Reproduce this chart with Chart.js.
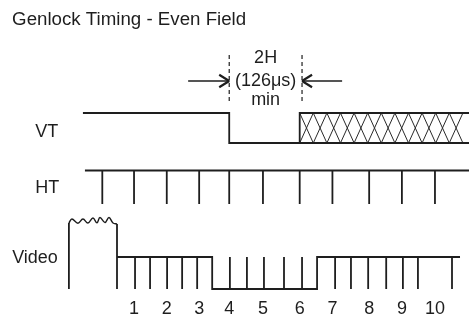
<!DOCTYPE html>
<html>
<head>
<meta charset="utf-8">
<script src="https://cdn.jsdelivr.net/npm/chart.js@4/dist/chart.umd.min.js"></script>
<style>
html,body{margin:0;padding:0;background:#fff;}
#wrap{width:469px;height:320px;position:relative;}
</style>
</head>
<body>
<div id="wrap"><canvas id="c"></canvas></div>
<script>
// ---- Data (time axis in H lines) ----
const title = 'Genlock Timing - Even Field';
const rowLabels = ['VT', 'HT', 'Video'];
const htTicks = [0, 0.95, 1.93, 2.90, 3.80, 4.81, 5.91, 6.89, 7.99, 8.97, 9.96, 10.98];
const tickLabels = ['1','2','3','4','5','6','7','8','9','10'];
const htStart = -0.52;
const vtTime  = [-0.58, 3.80, 3.80, 5.91, 5.91, 11.2];
const vtState = [1, 1, 0, 0, 1, 1];
const vtLowEnd = 11.2;
const hatchSpan = [5.91, 10.80];
const windowEdges = [3.80, 5.98];
const windowText = ['2H', '(126\u03bcs)', 'min'];
const arrowTails = [2.57, 7.18];
const burstLines = [-1.0, 0.0];
const waveTime  = [-1.0, -0.91, -0.73, -0.58, -0.43, -0.28, -0.16, -0.07, 0.08, 0.20, 0.32, 0.44];
const waveLevel = [9.7, 10.1, 9.68, 10.1, 9.7, 10.2, 9.72, 10.25, 9.75, 10.25, 9.7, 9.6];
const videoTime  = [0.44, 3.29, 3.29, 6.43, 6.43, 10.71];
const videoState = [1, 1, 0, 0, 1, 1];
const videoTicks = [0.98, 1.43, 1.94, 2.39, 2.84, 3.82, 4.33, 4.84, 5.44, 5.98,
                    6.97, 7.445, 7.96, 8.50, 9.00, 9.45, 10.47];

// ---- Layout levels (styling, not data) ----
const L = {
  vtHigh: 20.7, vtLow: 17.7,
  ht: 14.95, htBottom: 11.6,
  vHigh: 6.3, vLow: 3.1,
  dashTop: 26.5, dashBottom: 21.8,
  arrowY: 23.9,
  titleY: 30.0, vtLabY: 18.8, htLabY: 13.2, vLabY: 6.2, numY: 1.1,
  textY: [26.2, 23.9, 22.0]
};
const INK = '#1e1e1e';

function seg(pairs){ // pairs of [[x,y],[x,y]] -> points with null gaps
  const out = [];
  pairs.forEach((p,i)=>{ if(i) out.push({x:p[0][0], y:null}); out.push({x:p[0][0],y:p[0][1]},{x:p[1][0],y:p[1][1]}); });
  return out;
}
const ds = (data, extra) => Object.assign({data, borderColor: INK, borderWidth: 1.8, pointRadius: 0, showLine: true, fill: false, tension: 0, spanGaps: false}, extra||{});

const vtPts = vtTime.map((t,i)=>({x:t, y: vtState[i] ? L.vtHigh : L.vtLow}));
const vtBottom = [{x: vtTime[3], y: L.vtLow}, {x: vtLowEnd, y: L.vtLow}];
const htPts = [{x: htStart, y: L.ht}, {x: htTicks[htTicks.length-1] + 0.3, y: L.ht}];
const htTickPts = seg(htTicks.map(t=>[[t, L.ht],[t, L.htBottom]]));
const dashPts = seg(windowEdges.map(t=>[[t, L.dashTop],[t, L.dashBottom]]));
const arrowShafts = seg([[[arrowTails[0], L.arrowY],[windowEdges[0], L.arrowY]], [[arrowTails[1], L.arrowY],[windowEdges[1], L.arrowY]]]);
const hx = 0.30, hy = 0.62;
const arrowHeads = seg([
  [[windowEdges[0]-hx, L.arrowY+hy],[windowEdges[0], L.arrowY]],
  [[windowEdges[0], L.arrowY],[windowEdges[0]-hx, L.arrowY-hy]],
  [[windowEdges[1]+hx, L.arrowY+hy],[windowEdges[1], L.arrowY]],
  [[windowEdges[1], L.arrowY],[windowEdges[1]+hx, L.arrowY-hy]]
]);
const burstPts = seg(burstLines.map((t,i)=>[[t, L.vLow],[t, waveLevel[waveTime.indexOf(t)]]]));
const wavePts = waveTime.map((t,i)=>({x:t, y:waveLevel[i]}));
const videoPts = [{x: videoTime[0], y: waveLevel[waveLevel.length-1]}, {x: videoTime[0], y: L.vLow}, {x: videoTime[0], y: null}]
  .concat(videoTime.map((t,i)=>({x:t, y: videoState[i] ? L.vHigh : L.vLow})));
const vTickPts = seg(videoTicks.map(t=>[[t, L.vHigh],[t, L.vLow]]));

const textPlugin = {
  id: 'diagramText',
  beforeDatasetsDraw(chart){
    const {ctx, scales:{x, y}} = chart;
    // cross hatch inside the VT box
    const x0 = x.getPixelForValue(hatchSpan[0]), x1 = x.getPixelForValue(hatchSpan[1]);
    const y0 = y.getPixelForValue(L.vtHigh), y1 = y.getPixelForValue(L.vtLow);
    const h = y1 - y0, s = 13.6;
    ctx.save();
    ctx.beginPath(); ctx.rect(x0, y0, x1 - x0, h); ctx.clip();
    ctx.strokeStyle = '#2a2a2a'; ctx.lineWidth = 1;
    ctx.beginPath();
    for (let xs = x0 - 2*s; xs < x1 + 2*s; xs += s) {
      ctx.moveTo(xs, y0); ctx.lineTo(xs + s, y1);
      ctx.moveTo(xs + s, y0); ctx.lineTo(xs, y1);
    }
    ctx.stroke();
    ctx.restore();
  },
  afterDraw(chart){
    const {ctx, scales:{x, y}} = chart;
    ctx.save();
    ctx.fillStyle = INK;
    ctx.textBaseline = 'middle';
    ctx.textAlign = 'left';
    ctx.font = '18.7px "Liberation Sans", Arial, sans-serif';
    ctx.fillText(title, x.getPixelForValue(-2.70), y.getPixelForValue(L.titleY));
    ctx.font = '18px "Liberation Sans", Arial, sans-serif';
    ctx.fillText(rowLabels[0], x.getPixelForValue(-2.01), y.getPixelForValue(L.vtLabY));
    ctx.fillText(rowLabels[1], x.getPixelForValue(-2.01), y.getPixelForValue(L.htLabY));
    ctx.textAlign = 'right';
    ctx.fillText(rowLabels[2], x.getPixelForValue(-1.33), y.getPixelForValue(L.vLabY));
    ctx.textAlign = 'center';
    const mid = (windowEdges[0] + windowEdges[1]) / 2;
    windowText.forEach((s,i)=> ctx.fillText(s, x.getPixelForValue(mid), y.getPixelForValue(L.textY[i])));
    tickLabels.forEach((s,i)=> ctx.fillText(s, x.getPixelForValue(htTicks[i+1]), y.getPixelForValue(L.numY)));
    ctx.restore();
  }
};

new Chart(document.getElementById('c'), {
  type: 'scatter',
  data: { datasets: [
    ds(vtPts),
    ds(vtBottom),
    ds(htPts),
    ds(htTickPts),
    ds(dashPts, {borderWidth: 1.2, borderDash: [4, 3]}),
    ds(arrowShafts, {borderWidth: 1.6}),
    ds(arrowHeads, {borderWidth: 2.2}),
    ds(burstPts),
    ds(wavePts, {tension: 0.4, borderWidth: 1.4}),
    ds(videoPts),
    ds(vTickPts)
  ]},
  options: {
    responsive: true, maintainAspectRatio: false, animation: false,
    layout: {padding: 0},
    plugins: {legend: {display: false}, tooltip: {enabled: false}, title: {display: false}},
    scales: {
      x: {type: 'linear', display: false, min: -3.063, max: 10.979},
      y: {type: 'linear', display: false, min: 0, max: 32}
    }
  },
  plugins: [textPlugin]
});
</script>
</body>
</html>
